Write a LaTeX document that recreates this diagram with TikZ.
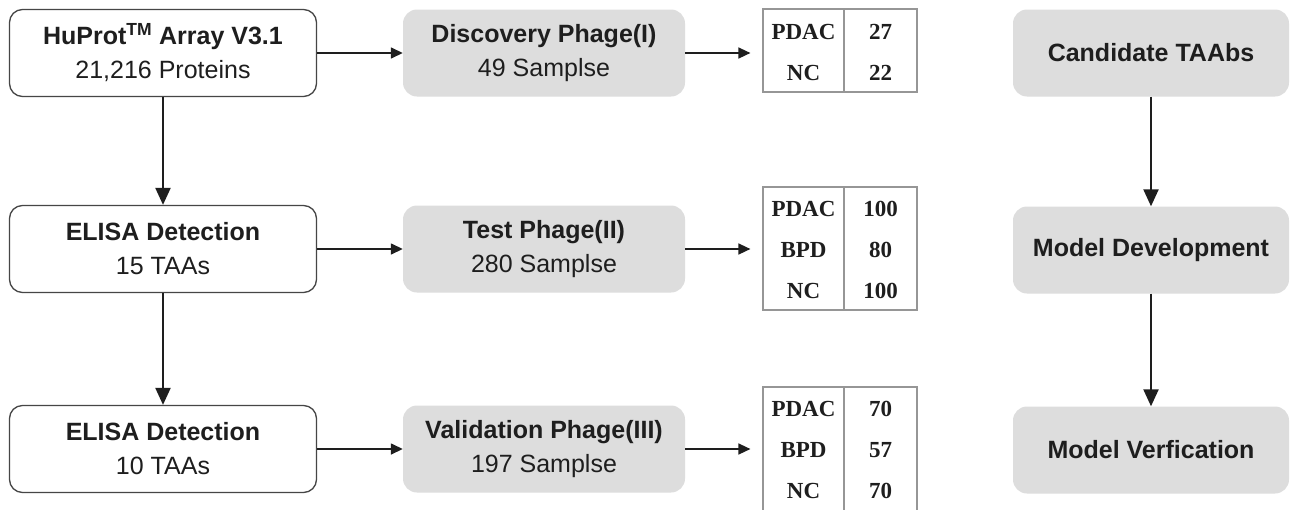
\documentclass[tikz,border=0pt]{standalone}
\usepackage{fontspec}
\setmainfont{Liberation Sans}
\newfontfamily\tabfont{Liberation Serif}
\usetikzlibrary{arrows.meta}
\definecolor{boxgray}{RGB}{221,221,221}
\definecolor{boxline}{RGB}{70,70,70}
\definecolor{txt}{RGB}{30,30,30}
\definecolor{tabline}{RGB}{150,150,150}
\begin{document}
\begin{tikzpicture}[x=1pt,y=-1pt,
  font=\fontsize{25}{34}\selectfont,
  whitebox/.style={draw=boxline, line width=1.3pt, rounded corners=13pt, fill=white,
    minimum width=307pt, minimum height=87pt, align=center, text=txt, inner sep=0pt},
  graybox/.style={fill=boxgray, rounded corners=14pt, minimum width=282pt,
    minimum height=87pt, align=center, text=txt, inner sep=0pt},
  rightbox/.style={graybox, minimum width=276pt},
  tabframe/.style={draw=tabline, line width=1.2pt, minimum width=154pt, inner sep=0pt},
  tabtxt/.style={font=\tabfont\bfseries\fontsize{23}{23}\selectfont, text=txt, inner sep=0pt},
  varrow/.style={draw=txt, line width=2.2pt, -{Triangle[length=17pt,width=15pt]}},
  harrow/.style={draw=txt, line width=1.5pt, -{Triangle[length=12pt,width=11pt]}},
]
\clip (0,0) rectangle (1290,509);
\fill[white] (0,0) rectangle (1290,509);

% left column
\node[whitebox] (b1) at (163,53) {\textbf{HuProt\textsuperscript{TM} Array V3.1}\\21,216 Proteins};
\node[whitebox] (b2) at (163,249) {\textbf{ELISA Detection}\\15 TAAs};
\node[whitebox] (b3) at (163,449) {\textbf{ELISA Detection}\\10 TAAs};

% middle column
\node[graybox] (g1) at (544,53) {\textbf{Discovery Phage(I)}\\49 Samplse};
\node[graybox] (g2) at (544,249) {\textbf{Test Phage(II)}\\280 Samplse};
\node[graybox] (g3) at (544,449) {\textbf{Validation Phage(III)}\\197 Samplse};

% tables
\node[tabframe, minimum height=83pt] (t1) at (840,50.5) {};
\draw[tabline, line width=1.2pt] (844,9) -- (844,92);
\node[tabtxt] (t1a) at (803.5,32) {PDAC};
\node[tabtxt] (t1b) at (880.5,32) {27};
\node[tabtxt] (t1c) at (803.5,73) {NC};
\node[tabtxt] (t1d) at (880.5,73) {22};

\node[tabframe, minimum height=123pt] (t2) at (840,248.5) {};
\draw[tabline, line width=1.2pt] (844,187) -- (844,310);
\node[tabtxt] (t2a) at (803.5,209) {PDAC};
\node[tabtxt] (t2b) at (880.5,209) {100};
\node[tabtxt] (t2c) at (803.5,250) {BPD};
\node[tabtxt] (t2d) at (880.5,250) {80};
\node[tabtxt] (t2e) at (803.5,291) {NC};
\node[tabtxt] (t2f) at (880.5,291) {100};

\node[tabframe, minimum height=127pt] (t3) at (840,450.5) {};
\draw[tabline, line width=1.2pt] (844,387) -- (844,514);
\node[tabtxt] (t3a) at (803.5,409) {PDAC};
\node[tabtxt] (t3b) at (880.5,409) {70};
\node[tabtxt] (t3c) at (803.5,450) {BPD};
\node[tabtxt] (t3d) at (880.5,450) {57};
\node[tabtxt] (t3e) at (803.5,491) {NC};
\node[tabtxt] (t3f) at (880.5,491) {70};

% right column
\node[rightbox] (r1) at (1151,53) {\textbf{Candidate TAAbs}};
\node[rightbox] (r2) at (1151,250) {\textbf{Model Development}};
\node[rightbox] (r3) at (1151,450) {\textbf{Model Verfication}};

% arrows
\draw[varrow] (b1.south) -- (b2.north);
\draw[varrow] (b2.south) -- (b3.north);
\draw[varrow] (r1.south) -- (r2.north);
\draw[varrow] (r2.south) -- (r3.north);

\draw[harrow] (b1.east) -- (g1.west);
\draw[harrow] (b2.east) -- (g2.west);
\draw[harrow] (b3.east) -- (g3.west);

\draw[harrow, shorten >=12pt] (g1.east) -- (g1.east -| t1.west);
\draw[harrow, shorten >=12pt] (g2.east) -- (g2.east -| t2.west);
\draw[harrow, shorten >=12pt] (g3.east) -- (g3.east -| t3.west);
\end{tikzpicture}
\end{document}
